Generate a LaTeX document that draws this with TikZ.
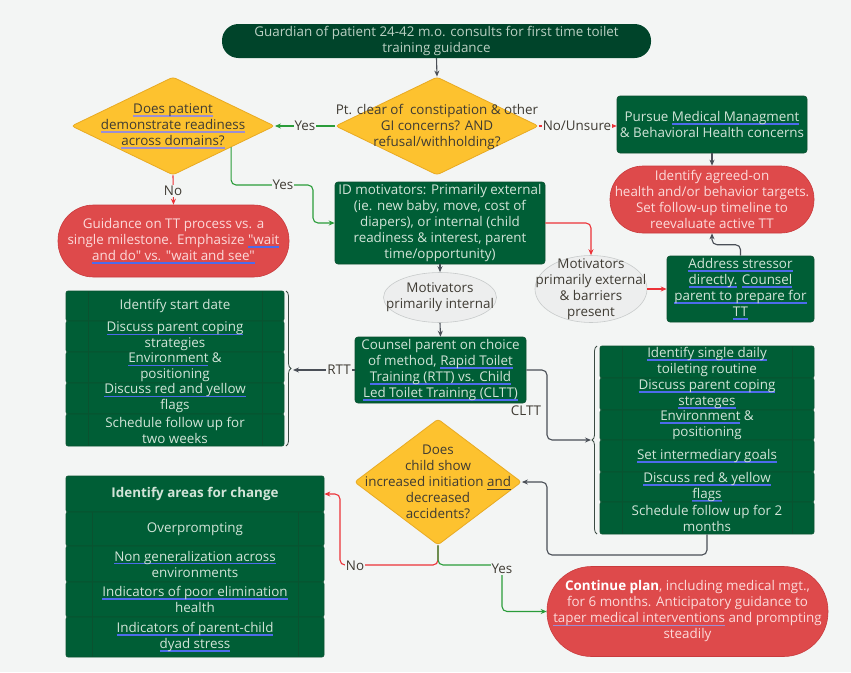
\documentclass[tikz,border=0pt]{standalone}
\usepackage{fontspec}
\setmainfont{Open Sans}[Ligatures=TeXOff]
\usetikzlibrary{shapes.geometric,arrows.meta,calc,decorations.pathreplacing}
\definecolor{bgc}{HTML}{F3F5F4}
\definecolor{topg}{HTML}{00442A}
\definecolor{boxg}{HTML}{005E36}
\definecolor{boxgb}{HTML}{0B4F2F}
\definecolor{rowline}{HTML}{0A5230}
\definecolor{boxtxt}{HTML}{D2E4D8}
\definecolor{toptxt}{HTML}{BBD0C3}
\definecolor{yel}{HTML}{FDC22F}
\definecolor{yelb}{HTML}{E8AA22}
\definecolor{redf}{HTML}{DE4A4B}
\definecolor{redb}{HTML}{C93B3D}
\definecolor{redtxt}{HTML}{FCDADA}
\definecolor{ellf}{HTML}{EDEEEE}
\definecolor{ellb}{HTML}{C8CBCB}
\definecolor{dtxt}{HTML}{3F3B33}
\definecolor{lnk}{HTML}{4A4F57}
\definecolor{lgreen}{HTML}{2A9C3A}
\definecolor{lred}{HTML}{EC3238}
\definecolor{ulblue}{HTML}{4D6BEB}
\definecolor{ulpur}{HTML}{9C8FD2}
\definecolor{bracec}{HTML}{3A4A42}
\newlength\ulwd
\newcommand\ulx[2][ulblue]{\settowidth\ulwd{#2}\rlap{\color{#1}\rule[-3.3pt]{\ulwd}{1.4pt}}#2}
\pgfdeclarelayer{bg}
\pgfsetlayers{bg,main}
\begin{document}
\begin{tikzpicture}[x=1pt,y=-1pt,
 base/.style={font=\fontsize{13.4}{16}\selectfont, align=center, inner sep=0pt},
 gbox/.style={base, fill=boxg, draw=boxgb, line width=0.6pt, rounded corners=3pt, text=boxtxt},
 term/.style={base, fill=redf, draw=redb, line width=0.6pt, text=redtxt},
 dia/.style={diamond, fill=yel, draw=yelb, line width=0.8pt, inner sep=0pt, rounded corners=3pt},
 dtext/.style={base, text=dtxt},
 ell/.style={ellipse, fill=ellf, draw=ellb, line width=0.6pt, inner sep=0pt},
 row/.style={fill=boxg, draw=rowline, line width=0.6pt, rounded corners=2pt, inner sep=0pt},
 rowtxt/.style={base, text=boxtxt},
 lk/.style={draw=lnk, line width=1.1pt, -{Stealth[length=6pt,width=5pt]}, rounded corners=5pt},
 lkg/.style={lk, draw=lgreen},
 lkr/.style={lk, draw=lred},
 lbl/.style={base, text=dtxt, fill=bgc, inner sep=1pt},
 brc/.style={decorate, decoration={brace,amplitude=5pt}, draw=bracec, line width=0.8pt}]
\fill[bgc] (0,0) rectangle (851,672);
\useasboundingbox (0,0) rectangle (851,672);

% top terminal
\node[base, fill=topg, rounded corners=16.5pt, minimum width=429pt, minimum height=34pt, text=toptxt] (top) at (436.5,41) {Guardian of patient 24-42 m.o. consults for first time toilet\\training guidance};

% diamonds
\node[dia, minimum width=203pt, minimum height=98pt] (d1) at (437,126) {};
\node[dtext] (d1t) at ([yshift=-1pt]d1) {Pt. clear of\ \ constipation \& other\\GI concerns? AND\\refusal/withholding?};
\node[dia, minimum width=203pt, minimum height=98pt] (d2) at (173,126) {};
\node[dtext] (d2t) at (d2) {\ulx[ulpur]{Does patient}\\\ulx[ulpur]{demonstrate readiness}\\\ulx[ulpur]{across domains?}};

% right top
\node[gbox, minimum width=190pt, minimum height=57pt] (pur) at (712,124.5) {Pursue \ulx{Medical Managment}\\\& Behavioral Health concerns};
\node[term, minimum width=204pt, minimum height=67pt, rounded corners=33pt] (redA) at (712,199.5) {Identify agreed-on\\health and/or behavior targets.\\Set follow-up timeline to\\reevaluate active TT};

% left red
\node[term, minimum width=231pt, minimum height=72pt, rounded corners=35.5pt] (redB) at (173.5,241) {Guidance on TT process vs. a\\single milestone. Emphasize \ulx{"wait}\\\ulx{and do" vs. "wait and see"}};

% ID motivators
\node[gbox, minimum width=210pt, minimum height=82pt] (idm) at (440,223) {ID motivators: Primarily external\\(ie. new baby, move, cost of\\diapers), or internal (child\\readiness \& interest, parent\\time/opportunity)};

% ellipses
\node[ell, minimum width=113pt, minimum height=50pt] (ei) at (440,297.5) {};
\node[dtext] (eit) at (ei) {Motivators\\primarily internal};
\node[ell, minimum width=112pt, minimum height=67pt] (ee) at (591,289) {};
\node[dtext] (eet) at (ee) {Motivators\\primarily external\\\& barriers\\present};

% address
\node[gbox, minimum width=147pt, minimum height=66pt] (adr) at (740.5,289) {\ulx{Address stressor}\\\ulx{directly.} \ulx{Counsel}\\\ulx{parent to prepare for}\\\ulx{TT}};

% counsel
\node[gbox, minimum width=171pt, minimum height=66pt] (cou) at (440.5,370) {Counsel parent on choice\\of method, \ulx{Rapid Toilet}\\\ulx{Training (RTT) vs. Child}\\\ulx{Led Toilet Training (CLTT)}};

% decision 3
\node[dia, minimum width=167pt, minimum height=126pt] (d3) at (438,482) {};
\node[dtext] (d3t) at (d3) {Does\\child show\\increased initiation \ulx[dtxt]{and}\\decreased\\accidents?};

% continue
\node[term, minimum width=281pt, minimum height=90pt, rounded corners=44.5pt] (cont) at (687.5,611.5) {\textcolor{white}{\textbf{Continue plan}}, including medical mgt.,\\for 6 months. Anticipatory guidance to\\\ulx[ulpur]{taper medical interventions} and prompting\\steadily};

% RTT list
\node[row, minimum width=218pt, minimum height=30pt] (r1) at (175,306) {};
\node[rowtxt] (r1t) at (r1) {Identify start date};
\node[row, minimum width=218pt, minimum height=31pt] (r2) at (175,336.5) {};
\node[rowtxt] (r2t) at (r2) {\ulx{Discuss parent coping}\\strategies};
\node[row, minimum width=218pt, minimum height=31pt] (r3) at (175,367.5) {};
\node[rowtxt] (r3t) at (r3) {\ulx{Environment} \&\\positioning};
\node[row, minimum width=218pt, minimum height=31pt] (r4) at (175,398.5) {};
\node[rowtxt] (r4t) at (r4) {\ulx{Discuss red and yellow}\\flags};
\node[row, minimum width=218pt, minimum height=32pt] (r5) at (175,430) {};
\node[rowtxt] (r5t) at (r5) {Schedule follow up for\\two weeks};
\draw[rowline, line width=0.6pt] (88,291) -- (88,446) (262,291) -- (262,446);
\draw[brc] (286,291) -- (286,446);
\coordinate (rttTip) at (293,370);

% CLTT list
\node[row, minimum width=214pt, minimum height=32pt] (c1) at (707,362) {};
\node[rowtxt] (c1t) at (c1) {\ulx{Identify single daily}\\toileting routine};
\node[row, minimum width=214pt, minimum height=32pt] (c2) at (707,394) {};
\node[rowtxt] (c2t) at (c2) {\ulx{Discuss parent coping}\\\ulx{strateges}};
\node[row, minimum width=214pt, minimum height=30pt] (c3) at (707,425) {};
\node[rowtxt] (c3t) at (c3) {\ulx{Environment} \&\\positioning};
\node[row, minimum width=214pt, minimum height=32pt] (c4) at (707,456) {};
\node[rowtxt] (c4t) at (c4) {\ulx{Set intermediary goals}};
\node[row, minimum width=214pt, minimum height=30pt] (c5) at (707,487) {};
\node[rowtxt] (c5t) at (c5) {\ulx{Discuss red \& yellow}\\\ulx{flags}};
\node[row, minimum width=214pt, minimum height=32pt] (c6) at (707,518) {};
\node[rowtxt] (c6t) at (c6) {Schedule follow up for 2\\months};
\draw[rowline, line width=0.6pt] (622,346) -- (622,534) (792,346) -- (792,534);
\draw[brc] (597,534) -- (597,346);
\coordinate (cTip) at (591,440);

% areas list
\node[row, minimum width=258pt, minimum height=36pt] (ah) at (195,494) {};
\node[rowtxt] (aht) at (ah) {\textbf{Identify areas for change}};
\node[row, minimum width=258pt, minimum height=34pt] (a1) at (195,529) {};
\node[rowtxt] (a1t) at (a1) {Overprompting};
\node[row, minimum width=258pt, minimum height=36pt] (a2) at (195,564) {};
\node[rowtxt] (a2t) at (a2) {\ulx{Non generalization across}\\environments};
\node[row, minimum width=258pt, minimum height=35pt] (a3) at (195,599.5) {};
\node[rowtxt] (a3t) at (a3) {\ulx{Indicators of poor elimination}\\health};
\node[row, minimum width=258pt, minimum height=40pt] (a4) at (195,637) {};
\node[rowtxt] (a4t) at (a4) {\ulx{Indicators of parent-child}\\\ulx{dyad stress}};
\draw[rowline, line width=0.6pt] (92,512) -- (92,657) (298,512) -- (298,657);

% connectors
\draw[lk] (top.south) -- (d1.north);
\draw[lkg] (d1.west) -- (d2.east);
\node[lbl] (yes1) at (305,126) {Yes};
\draw[lkr] (d1.east) -- (d1.east -| pur.west);
\node[lbl] (nou) at (577,126) {No/Unsure};
\draw[lk] (pur.south) -- (redA.north);
\draw[lk] (adr.north) -- ++(0,-11) -| (redA.south);
\draw[lkr] (d2.south) -- (redB.north);
\node[lbl] (no1) at (173,191) {No};
\coordinate (d2s) at ($(d2.east)!0.43!(d2.south)$);
\draw[lkg] (d2s) |- (313,185) |- (idm.west);
\node[lbl] (yes2) at (283,185) {Yes};
\draw[lk] (idm.south) -- (ei.north);
\draw[lkr] (idm.east) -| (ee.north);
\draw[lkr] (ee.east) -- (ee.east -| adr.west);
\draw[lk] (ei.south) -- (cou.north);
\draw[lk] (cou.west) -- (rttTip);
\node[lbl] (rttl) at (339,370) {RTT};
\draw[lk] (cou.east) -| (547,440) -- (cTip);
\node[lbl] (clttl) at (526,411) {CLTT};
\draw[lk] (c6.south) |- (547,555) |- (d3.east);
\draw[lkr] (d3.south) |- (340,565) |- (ah.east);
\node[lbl] (no2) at (355,566) {No};
\draw[lkg] (d3.south) |- (502,565) |- (cont.west);
\node[lbl] (yes3) at (502,569) {Yes};
\coordinate (lpEnd) at ($(d1.north)!0.46!(d1.west)$);
\begin{pgfonlayer}{bg}
\draw[lk] (a4.west) -| (37,77) -| (lpEnd);
\end{pgfonlayer}
\end{tikzpicture}
\end{document}
